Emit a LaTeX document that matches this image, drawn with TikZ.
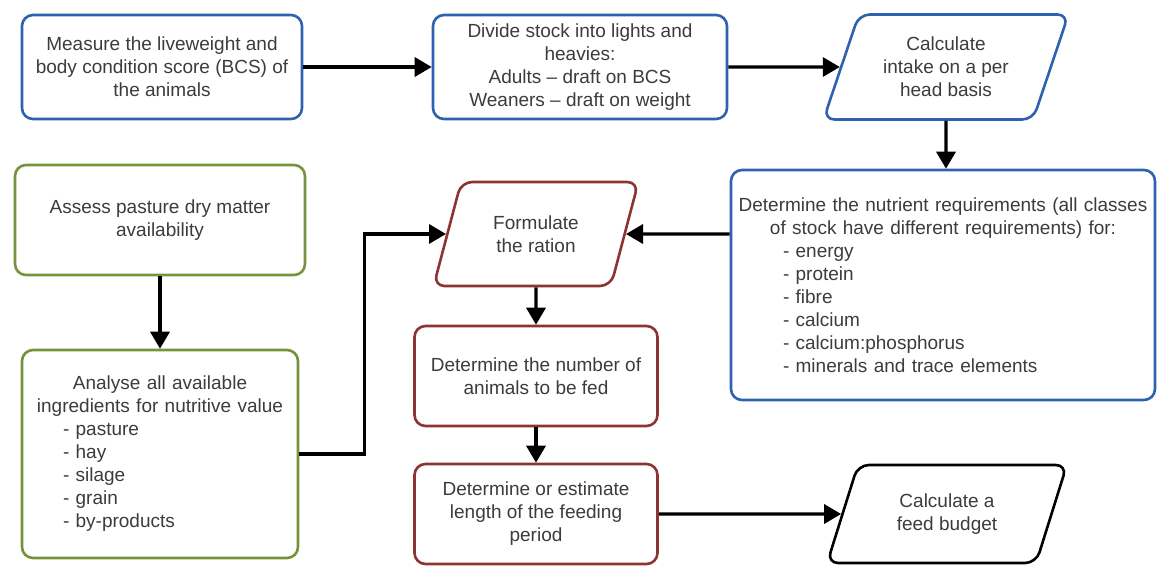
\documentclass[tikz,border=0pt]{standalone}
\usepackage{fontspec}
\setmainfont{Liberation Sans}
\usetikzlibrary{shapes.geometric,arrows.meta}
\definecolor{flowblue}{HTML}{2E62B1}
\definecolor{flowgreen}{HTML}{76923C}
\definecolor{flowred}{HTML}{8C3431}
\definecolor{flowtext}{HTML}{3C3C3C}
\tikzset{
    stepbox/.style={draw, line width=2.6pt, rounded corners=11pt, fill=white, text=flowtext,
        align=center, inner sep=0pt, font=\fontsize{19}{23}\selectfont},
    iobox/.style={stepbox, trapezium, trapezium left angle=67, trapezium right angle=113,
        trapezium stretches=true},
    flow/.style={->, line width=3.4pt},
}
\begin{document}
\begin{tikzpicture}[x=1pt, y=-1pt, >={Triangle[length=17pt, width=19pt]}]
    \useasboundingbox (0,0) rectangle (1160,566);
    % top row
    \node[stepbox, draw=flowblue, minimum width=280pt, minimum height=104pt] (measure) at (162,67)
        {Measure the liveweight and\\body condition score (BCS) of\\the animals};
    \node[stepbox, draw=flowblue, minimum width=294pt, minimum height=104pt] (divide) at (580,67)
        {Divide stock into lights and\\heavies:\\Adults -- draft on BCS\\Weaners -- draft on weight};
    \node[iobox, draw=flowblue, minimum width=245pt, minimum height=105pt] (intake) at (946,67)
        {Calculate\\intake on a per\\head basis};
    \node[stepbox, draw=flowblue, minimum width=424pt, minimum height=230pt, text width=418pt] (nutrient) at (943,285)
        {\centering Determine the nutrient requirements (all classes\\of stock have different requirements) for:\par
         \raggedright\leftskip=49pt - energy\\- protein\\- fibre\\- calcium\\- calcium:phosphorus\\- minerals and trace elements\par};
    % middle column
    \node[iobox, draw=flowred, minimum width=205pt, minimum height=104pt] (ration) at (536,234)
        {Formulate\\the ration};
    \node[stepbox, draw=flowred, minimum width=243pt, minimum height=100pt] (number) at (536,376)
        {Determine the number of\\animals to be fed};
    \node[stepbox, draw=flowred, minimum width=243pt, minimum height=100pt] (period) at (536,514)
        {Determine or estimate\\length of the feeding\\period};
    \node[iobox, draw=black, minimum width=240pt, minimum height=98pt] (budget) at (947,514)
        {Calculate a\\feed budget};
    % left column
    \node[stepbox, draw=flowgreen, minimum width=290pt, minimum height=110pt] (pasture) at (160,220)
        {Assess pasture dry matter\\availability};
    \node[stepbox, draw=flowgreen, minimum width=276pt, minimum height=208pt, text width=250pt] (ingredients) at (160,454)
        {\centering Analyse all available\\ingredients for nutritive value\par
         \raggedright\leftskip=28pt - pasture\\- hay\\- silage\\- grain\\- by-products\par};
    % connectors
    \draw[flow] (measure) -- (divide);
    \draw[flow] (divide) -- (intake);
    \draw[flow] (intake) -- (intake |- nutrient.north);
    \draw[flow] (nutrient.west |- ration) -- (ration);
    \draw[flow] (ration) -- (number);
    \draw[flow] (number) -- (period);
    \draw[flow] (period) -- (budget);
    \draw[flow] (pasture) -- (ingredients);
    \draw[flow] (ingredients.east) -- ++(65,0) |- (ration.west);
\end{tikzpicture}
\end{document}
